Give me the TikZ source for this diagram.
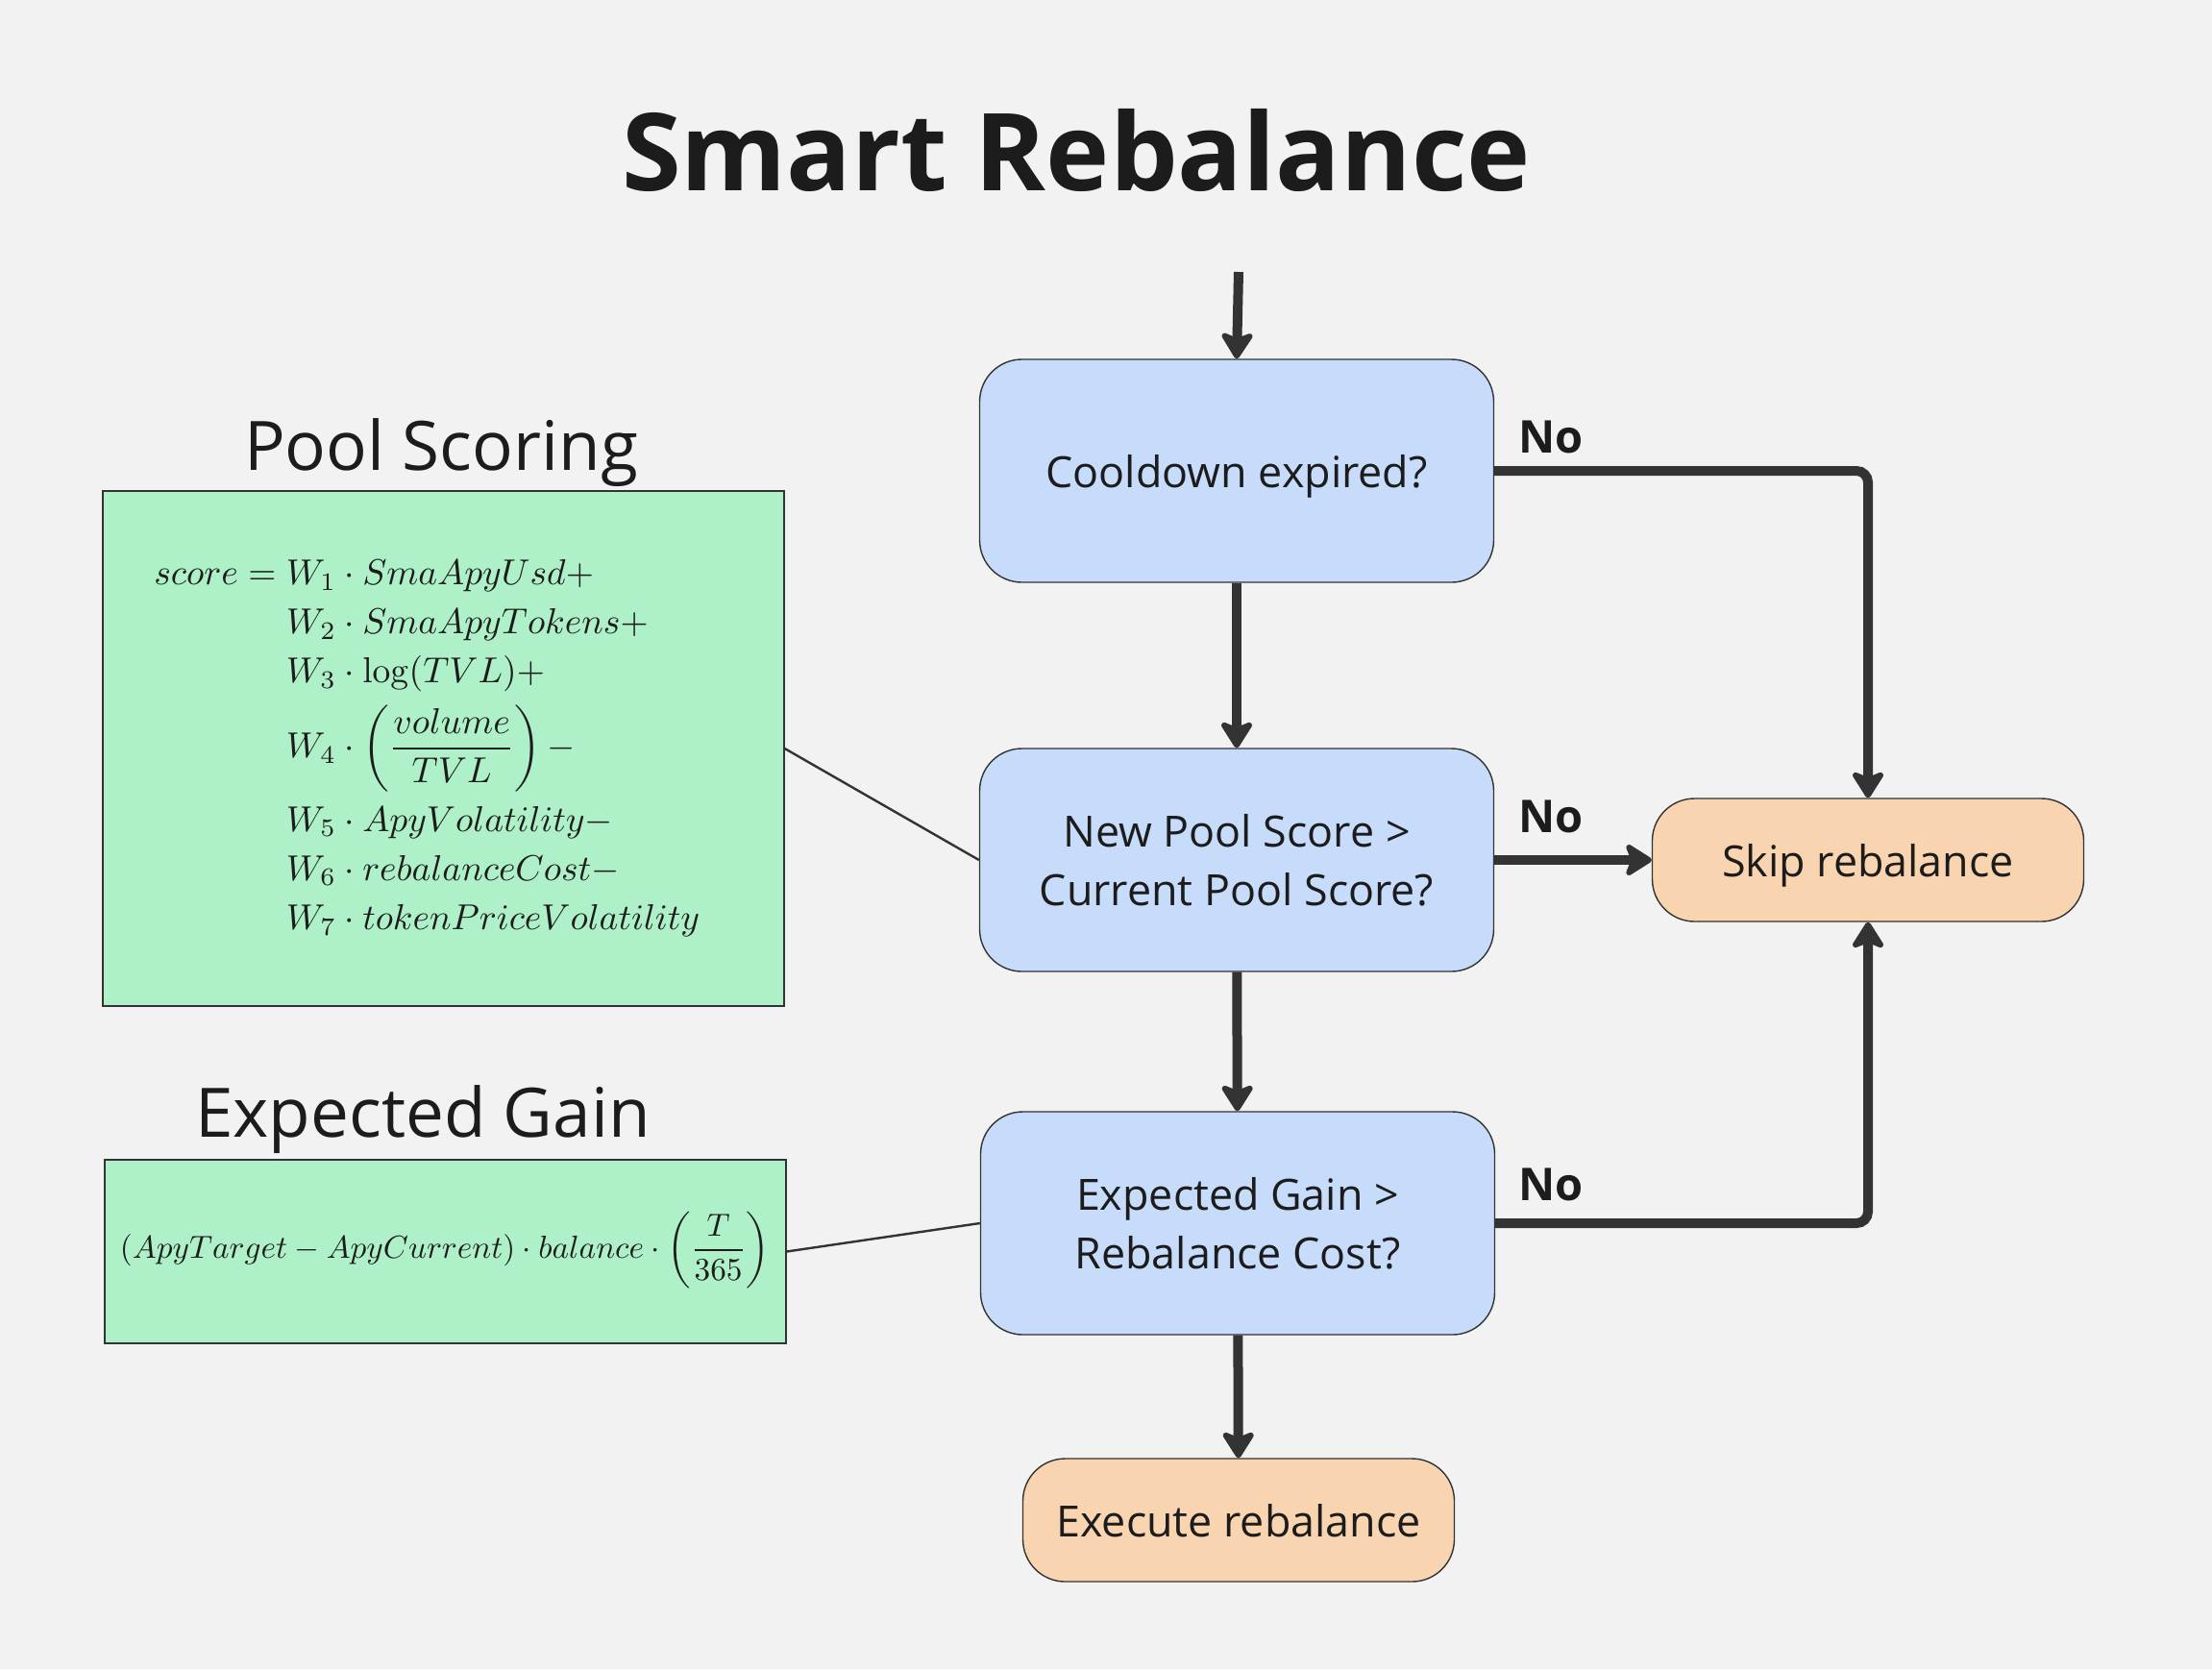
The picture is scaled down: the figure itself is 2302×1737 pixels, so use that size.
\documentclass[tikz,border=0pt]{standalone}
\usepackage{amsmath}
\usepackage{graphicx}
\usepackage[no-math]{fontspec}
\setmainfont{Open Sans}
\usetikzlibrary{arrows.meta,positioning}
\definecolor{bg}{HTML}{F2F2F2}
\definecolor{bluefill}{HTML}{C6DCFA}
\definecolor{orangefill}{HTML}{F8D5B0}
\definecolor{greenfill}{HTML}{AEF0C8}
\definecolor{linec}{HTML}{333333}
\definecolor{textc}{HTML}{1C1C1C}
\begin{document}
\begin{tikzpicture}[x=0.5pt,y=-0.5pt,
  every node/.style={text=textc},
  decision/.style={draw=linec, line width=0.7pt, fill=bluefill, rounded corners=22pt,
    minimum width=267.5pt, minimum height=116pt, inner sep=0pt, align=center,
    font=\fontsize{22.4}{30.5}\selectfont},
  terminal/.style={draw=linec, line width=0.7pt, fill=orangefill, rounded corners=22pt,
    minimum width=224.5pt, minimum height=64pt, inner sep=0pt, align=center,
    font=\fontsize{22.4}{30.5}\selectfont},
  oneline/.style={text depth=0pt},
  formulabox/.style={draw=linec, line width=0.7pt, fill=greenfill,
    minimum width=354.5pt, inner sep=0pt},
  heading/.style={font=\fontsize{35.5}{40}\selectfont},
  nolabel/.style={font=\fontsize{23.5}{26}\selectfont\bfseries, anchor=base west},
  flow/.style={draw=linec, line width=5pt,
    -{Stealth[length=16pt,width=20pt,inset=4pt,round]}},
  link/.style={draw=linec, line width=1.2pt},
]
\useasboundingbox[fill=bg] (0,0) rectangle (2302,1737);

% title
\node[anchor=base, font=\fontsize{56}{60}\selectfont\bfseries] (title) at (1120,198) {Smart Rebalance};

% flow nodes
\node[decision, oneline] (cool) at (1287,490) {Cooldown expired?};
\node[decision] (newp) at (1287,895) {New Pool Score >\\Current Pool Score?};
\node[decision] (expg) at (1288,1273) {Expected Gain >\\Rebalance Cost?};
\node[terminal, oneline] (skip) at (1944,895) {Skip rebalance};
\node[terminal, oneline] (exec) at (1289,1582) {Execute rebalance};
\coordinate (start) at (1289,283);

% side boxes
\node[heading, anchor=base] (poolh) at (459,489) {Pool Scoring};
\node[formulabox, minimum height=268pt] (pool) at (461.5,779) {};
\node[anchor=west, inner sep=0pt] (poolf) at (160,779) {\setlength{\jot}{1.6pt}\resizebox{284pt}{!}{$\begin{aligned}
score = {}& W_1 \cdot SmaApyUsd + \\
& W_2 \cdot SmaApyTokens + \\
& W_3 \cdot \log(TVL) + \\
& W_4 \cdot \left(\frac{volume}{TVL}\right) - \\
& W_5 \cdot ApyVolatility - \\
& W_6 \cdot rebalanceCost - \\
& W_7 \cdot tokenPriceVolatility
\end{aligned}$}};

\node[heading, anchor=base] (egh) at (440,1183) {Expected Gain};
\node[formulabox, minimum height=95.5pt] (eg) at (463.5,1302.5) {};
\node[inner sep=0pt] (egf) at (463,1301) {\resizebox{338pt}{!}{$\displaystyle (ApyTarget - ApyCurrent) \cdot balance \cdot \left(\frac{T}{365}\right)$}};

% connectors
\draw[link] (pool.east) -- (newp.west);
\draw[link] (eg.east) -- (expg.west);

\draw[flow] (start) -- (cool.north);
\draw[flow] (cool) -- (newp);
\draw[flow] (newp) -- (expg);
\draw[flow] (expg) -- (exec);
\draw[flow] (newp) -- (skip);
\draw[flow, rounded corners=6pt] (cool.east) -| (skip.north);
\draw[flow, rounded corners=6pt] (expg.east) -| (skip.south);

\node[nolabel] (no1) at (1573,471) {No};
\node[nolabel] (no2) at (1573,866) {No};
\node[nolabel] (no3) at (1573,1249) {No};
\end{tikzpicture}
\end{document}
